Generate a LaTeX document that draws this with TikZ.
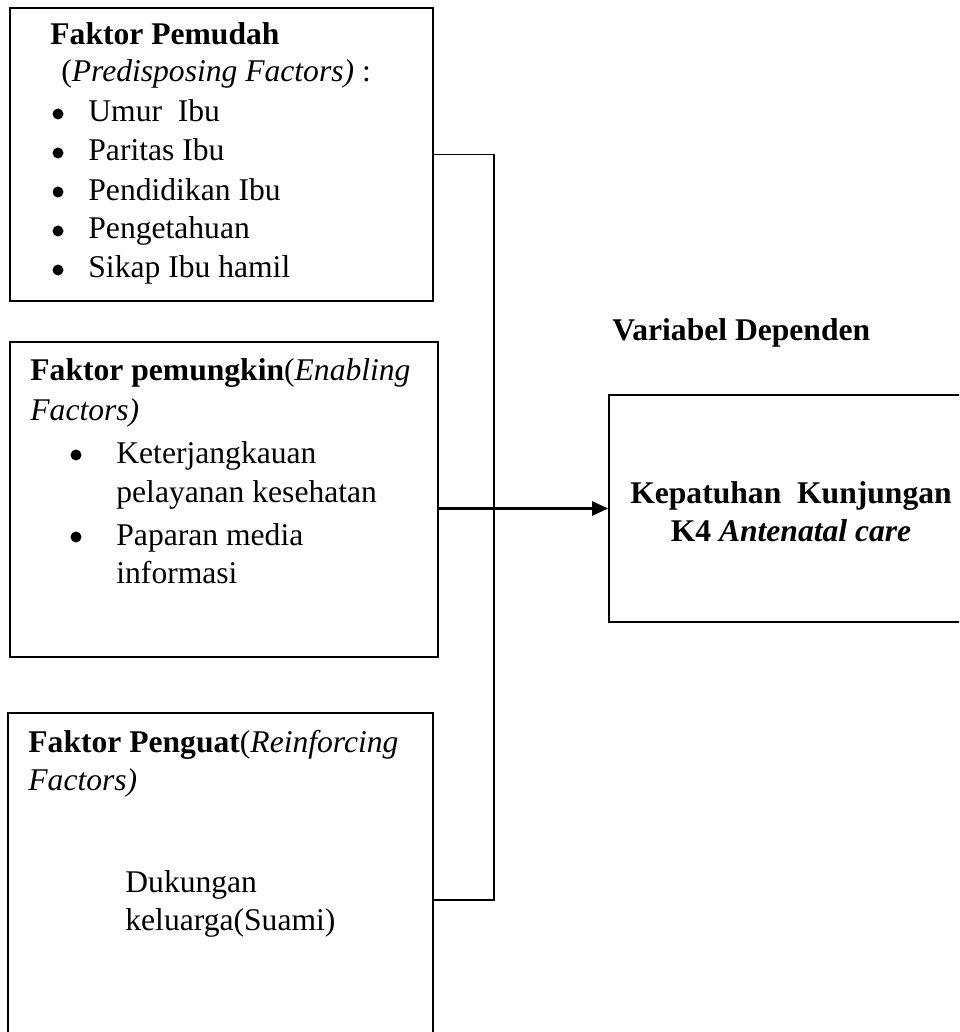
\documentclass[tikz,border=0pt]{standalone}
\usepackage{fontspec}
\setmainfont{Liberation Serif}
\usetikzlibrary{arrows.meta}
\newcommand{\px}{0.5pt}
\tikzset{
  box/.style={draw, line width=0.9pt, inner sep=0pt},
  txt/.style={anchor=base west, inner sep=0pt},
  ctxt/.style={anchor=base, inner sep=0pt},
  dot/.style={circle, fill, inner sep=0pt, minimum size=11*\px},
  link/.style={line width=0.9pt},
}
\begin{document}
\begin{tikzpicture}[x=0.5pt, y=-0.5pt, line cap=butt, line join=miter,
    font=\fontsize{15.8}{19}\selectfont]
  % Page frame: 959 x 1032, y runs downwards.
  \useasboundingbox (0,0) rectangle (959,1032);
  \clip (0,0) rectangle (959,1032);
  % The three factor boxes on the left, the dependent box on the right.
  \node[box, minimum width=423*\px, minimum height=293*\px] (pemudah)   at (221.5,154.5) {};
  \node[box, minimum width=428*\px, minimum height=315*\px] (pemungkin) at (224,499.5) {};
  \node[box, minimum width=425*\px, minimum height=374*\px] (penguat)   at (220.5,900) {};
  \node[box, minimum width=391*\px, minimum height=227*\px] (dependen)  at (804.5,508.5) {};
  % Box 1: predisposing factors.
  \node[txt] (pemudahA) at (50,45) {\textbf{Faktor Pemudah}};
  \node[txt] (pemudahB) at (53,82) {\ (\textit{Predisposing Factors)} :};
  \node[dot] (bulA) at (58,114) {};
  \node[dot] (bulB) at (58,153) {};
  \node[dot] (bulC) at (58,192) {};
  \node[dot] (bulD) at (58,231) {};
  \node[dot] (bulE) at (58,270) {};
  \node[txt] (umur)   at (88,122) {Umur\ \ Ibu};
  \node[txt] (paritas) at (88,161) {Paritas Ibu};
  \node[txt] (didik)  at (88,200) {Pendidikan Ibu};
  \node[txt] (tahu)   at (88,239) {Pengetahuan};
  \node[txt] (sikap)  at (88,278) {Sikap Ibu hamil};
  % Box 2: enabling factors.
  \node[txt] (pemungkinA) at (30,380) {\textbf{Faktor pemungkin}(\textit{Enabling}};
  \node[txt] (pemungkinB) at (30,420) {\textit{Factors)}};
  \node[dot] (bulF) at (76,455) {};
  \node[dot] (bulG) at (76,537) {};
  \node[txt] (jangkauA) at (116,463) {Keterjangkauan};
  \node[txt] (jangkauB) at (116,502) {pelayanan kesehatan};
  \node[txt] (mediaA)   at (116,545) {Paparan media};
  \node[txt] (mediaB)   at (116,583) {informasi};
  % Box 3: reinforcing factors.
  \node[txt] (penguatA) at (28,752) {\textbf{Faktor Penguat}(\textit{Reinforcing}};
  \node[txt] (penguatB) at (28,790) {\textit{Factors)}};
  \node[txt] (dukungA)  at (125,892) {Dukungan};
  \node[txt] (dukungB)  at (125,930) {keluarga(Suami)};
  % Dependent variable.
  \node[txt]  (judul)     at (612,340) {\textbf{Variabel Dependen}};
  \node[ctxt] (patuhA)    at (791,503) {\textbf{Kepatuhan\ \ Kunjungan}};
  \node[ctxt] (patuhB)    at (791,541) {\textbf{K4} \textbf{\textit{Antenatal care}}};
  % Bus line joining box 1 and box 3, arrow from box 2.
  \coordinate (busBot) at (494,900);
  \draw[link] (pemudah.east) -| (busBot) -- (penguat.east);
  \draw[line width=1.3pt, -{Triangle[length=8pt, width=7pt]}]
    (dependen.west -| pemungkin.east) -- (dependen.west);
\end{tikzpicture}
\end{document}
